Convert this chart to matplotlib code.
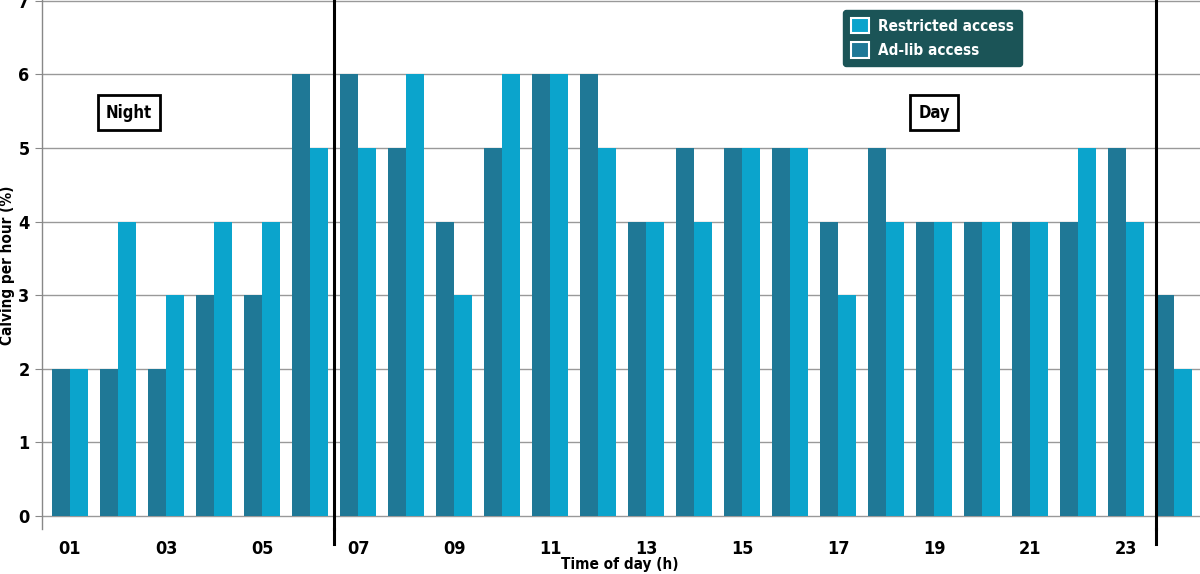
import numpy as np
from matplotlib import pyplot as plt
from matplotlib.patches import Patch

hours = np.arange(1, 25)
adlib = [2, 2, 2, 3, 3, 6, 6, 5, 4, 5, 6, 6, 4, 5, 5, 5, 4, 5, 4, 4, 4, 4, 5, 3]
restricted = [2, 4, 3, 4, 4, 5, 5, 6, 3, 6, 6, 5, 4, 4, 5, 5, 3, 4, 4, 4, 4, 5, 4, 2]
tick_hours = list(range(1, 24, 2))
tick_labels = [f'{h:02d}' for h in tick_hours]

dark = '#1f7896'
light = '#0ba4cc'

plt.rcParams['font.family'] = ['DejaVu Sans']
plt.rcParams['font.stretch'] = 'condensed'

fig = plt.figure(figsize=(12, 5.74), dpi=100)
ax = fig.add_axes([0.035, 0.078, 0.965, 0.922])

bar_width = 0.375
ax.bar(hours - bar_width / 2, adlib, width=bar_width, color=dark, zorder=3)
ax.bar(hours + bar_width / 2, restricted, width=bar_width, color=light, zorder=3)

ax.set_xlim(0.417, 24.54)
ax.set_ylim(-0.18, 7.01)
ax.set_yticks(range(0, 8))
ax.set_yticklabels([str(i) for i in range(0, 8)], fontsize=13, fontweight='bold')
ax.set_xticks(tick_hours)
ax.set_xticklabels(tick_labels, fontsize=13, fontweight='bold')
ax.tick_params(axis='x', length=0, pad=8)
ax.tick_params(axis='y', length=5, color='#888888', pad=4)

for s in ['top', 'right', 'bottom']:
    ax.spines[s].set_visible(False)
ax.spines['left'].set_color('#888888')
ax.spines['left'].set_linewidth(1)
ax.grid(axis='y', color='#999999', lw=1, zorder=1)

# day/night dividers
for xv in [6.5, 23.62]:
    ax.axvline(xv, ymin=0, ymax=1, color='black', lw=2.2, zorder=4, clip_on=False)
    ax.plot([xv, xv], [-0.18, -0.38], color='black', lw=2.2, clip_on=False, zorder=4)

box = dict(boxstyle='square,pad=0.5', fc='white', ec='black', lw=2)
ax.text(2.23, 5.48, 'Night', ha='center', va='center', fontsize=12,
        fontweight='bold', bbox=box, zorder=5)
ax.text(19.0, 5.48, 'Day', ha='center', va='center', fontsize=12,
        fontweight='bold', bbox=box, zorder=5)

fig.text(8 / 1200, 1 - 265 / 574, 'Calving per hour (%)', rotation=90, ha='center', va='center',
         fontsize=11, fontweight='bold')
fig.text(620 / 1200, 1 - 565 / 574, 'Time of day (h)', ha='center', va='center',
         fontsize=11, fontweight='bold')

handles = [Patch(facecolor=light, edgecolor='white', lw=1.5, label='Restricted access'),
           Patch(facecolor=dark, edgecolor='white', lw=1.5, label='Ad-lib access')]
leg = fig.legend(handles=handles, loc='upper left', bbox_to_anchor=(843 / 1200, 1 - 10 / 574),
                 borderaxespad=0,
                 facecolor='#1b5457', edgecolor='#1b5457', framealpha=1, fancybox=True,
                 labelcolor='white', prop={'weight': 'bold', 'size': 11, 'stretch': 'condensed'},
                 handlelength=1.2, handleheight=1.2, handletextpad=0.6,
                 labelspacing=0.55, borderpad=0.5)
leg.set_zorder(10)

plt.savefig('out.png', dpi=100)
plt.close()
